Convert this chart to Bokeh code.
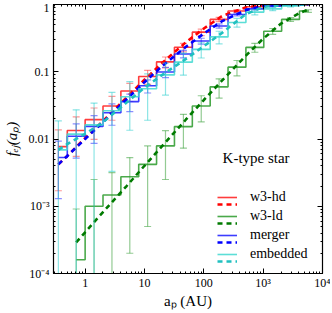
from bokeh.plotting import figure
from bokeh.models import (Range1d, LogAxis, FixedTicker, Legend, LegendItem, Label,
                          ColumnDataSource)
from bokeh.embed import file_html
from bokeh.resources import INLINE

# ---------------- data ----------------
bin_centers = [0.354, 0.707, 1.414, 2.83, 5.66, 11.3, 22.6, 45.3, 90.5, 181, 362, 724, 1448, 2896, 5793]

hd_vals = [0.0077, 0.0134, 0.0194, 0.031, 0.0516, 0.085, 0.140, 0.231, 0.388, 0.60, 0.80, 0.925, 0.97, 0.99, 1.0]
hd_errs = [0.0060, 0.0079, 0.0095, 0.0120, 0.0155, 0.0199, 0.0256, 0.033, 0.043, 0.045, 0.04, 0.03, 0.02, 0.01, 0.0]

merger_vals = [0.0053, 0.011, 0.0154, 0.0246, 0.036, 0.062, 0.099, 0.184, 0.286, 0.48, 0.71, 0.86, 0.945, 0.99, 1.0]
merger_errs = [0.0040, 0.0058, 0.0068, 0.0086, 0.0104, 0.0137, 0.0173, 0.0236, 0.029, 0.035, 0.035, 0.03, 0.02, 0.01, 0.0]

emb_vals = [0.0069, 0.0118, 0.0162, 0.0263, 0.0425, 0.056, 0.090, 0.139, 0.215, 0.33, 0.54, 0.77, 0.86, 0.95, 1.0]
emb_errs = [0.0117, 0.0154, 0.018, 0.023, 0.029, 0.037, 0.045, 0.05, 0.055, 0.07, 0.08, 0.07, 0.05, 0.03, 0.0]

ld_centers = [0.707, 1.414, 2.83, 5.66, 11.3, 22.6, 45.3, 90.5, 181, 362, 724, 1448, 2896, 5793]
ld_vals = [1.6e-4, 1.0e-3, 1.47e-3, 2.75e-3, 4.2e-3, 7.9e-3, 0.0153, 0.031, 0.0596, 0.117, 0.23, 0.40, 0.60, 0.80]
ld_errs = [7.5e-4, 1.5e-3, 1.7e-3, 2.55e-3, 3.7e-3, 5.4e-3, 8e-3, 0.013, 0.019, 0.03, 0.035, 0.04, 0.04, 0.035]

fit_x = [0.354, 0.5, 1, 2, 5, 10, 20, 50, 100, 200, 500, 1000, 2000, 5800]
hd_fit = [0.0042, 0.0056, 0.0103, 0.0184, 0.0415, 0.076, 0.136, 0.275, 0.44, 0.67, 0.90, 0.98, 1.0, 1.0]
merger_fit = [0.0042, 0.0056, 0.0100, 0.0178, 0.039, 0.070, 0.122, 0.235, 0.37, 0.56, 0.82, 0.95, 0.99, 1.0]
emb_fit = [0.0069, 0.0084, 0.0119, 0.0178, 0.035, 0.058, 0.090, 0.155, 0.24, 0.375, 0.71, 0.92, 0.98, 1.0]

ld_fit_x = [0.707, 1, 2, 5, 10, 20, 50, 100, 200, 500, 1000, 2000, 4000, 5800]
ld_fit = [2.9e-4, 4.1e-4, 8.2e-4, 2.0e-3, 4.0e-3, 7.9e-3, 0.0195, 0.038, 0.073, 0.17, 0.31, 0.52, 0.74, 0.84]

series_names = ["w3-hd", "w3-ld", "merger", "embedded"]

x_major = [1, 10, 100, 1000, 10000]
x_tick_labels = ["1", "10", "100", "10³", "10⁴"]
y_major = [0.0001, 0.001, 0.01, 0.1, 1]
y_tick_labels = ["10⁻⁴", "10⁻³", "0.01", "0.1", "1"]

x_title = "aₚ (AU)"
y_title = "fₑⱼ(aₚ)"

# ---------------- figure ----------------
SERIF = "'Liberation Serif', serif"
X0, X1 = 0.293, 1e4
Y0, Y1 = 1e-4, 1

p = figure(width=330, height=311, x_axis_type="log", y_axis_type="log",
           x_range=Range1d(X0, X1), y_range=Range1d(Y0, Y1),
           output_backend="svg", toolbar_location=None,
           min_border_left=51, min_border_right=8, min_border_top=4, min_border_bottom=30)
p.grid.visible = False
p.outline_line_color = "black"
p.outline_line_width = 1.2
p.outline_line_alpha = 1.0
p.background_fill_color = "white"
p.border_fill_color = "white"

x_minor = [m * 10.0 ** k for k in range(-1, 4) for m in range(2, 10)]
y_minor = [m * 10.0 ** k for k in range(-4, 0) for m in range(2, 10)]
xticker = FixedTicker(ticks=x_major, minor_ticks=x_minor)
yticker = FixedTicker(ticks=y_major, minor_ticks=y_minor)


def style_axis(ax):
    ax.major_tick_in = 5
    ax.major_tick_out = 0
    ax.minor_tick_in = 2
    ax.minor_tick_out = 0
    ax.major_tick_line_color = "black"
    ax.minor_tick_line_color = "black"
    ax.axis_line_color = "black"
    ax.major_label_text_font = SERIF
    ax.major_label_text_font_size = "12px"
    ax.major_label_text_color = "black"
    ax.axis_label_text_font = SERIF
    ax.axis_label_text_font_size = "15px"
    ax.axis_label_text_color = "black"


xa = p.xaxis[0]
ya = p.yaxis[0]
style_axis(xa)
style_axis(ya)
xa.ticker = xticker
ya.ticker = yticker
xa.major_label_overrides = dict(zip(x_major, x_tick_labels))
ya.major_label_overrides = dict(zip(y_major, y_tick_labels))
xa.major_label_standoff = 2
ya.major_label_standoff = 4
xa.axis_label = x_title
xa.axis_label_text_font_style = "normal"
xa.axis_label_standoff = 0
ya.axis_label = y_title
ya.axis_label_text_font_style = "italic"
ya.axis_label_standoff = 6

top = LogAxis(ticker=xticker)
style_axis(top)
top.major_label_text_font_size = "1px"
top.major_label_text_alpha = 0
top.major_label_standoff = 0
p.add_layout(top, "above")
right = LogAxis(ticker=yticker)
style_axis(right)
right.major_label_text_font_size = "1px"
right.major_label_text_alpha = 0
right.major_label_standoff = 0
p.add_layout(right, "right")


def add_series(xs, ys, errs, fx, fy, c_step, c_err, c_dash):
    lo = [max(y - e, 1e-7) for y, e in zip(ys, errs)]
    hi = [y + e for y, e in zip(ys, errs)]
    src = ColumnDataSource(dict(x=xs, y=ys, lo=lo, hi=hi))
    p.segment(x0="x", y0="lo", x1="x", y1="hi", source=src,
              line_color=c_err, line_alpha=0.55, line_width=1.2)
    p.scatter("x", "lo", source=src, marker="dash", size=7,
              line_color=c_err, line_alpha=0.55, line_width=1.2)
    p.scatter("x", "hi", source=src, marker="dash", size=7,
              line_color=c_err, line_alpha=0.55, line_width=1.2)
    st = p.step("x", "y", source=src, mode="center", line_color=c_step,
                line_width=1.6, line_alpha=0.85)
    d = p.line(fx, fy, line_color=c_dash, line_width=2.6, line_dash="5 4")
    return st, d


r_hd = add_series(bin_centers, hd_vals, hd_errs, fit_x, hd_fit, "#ff1a1a", "#ff4040", "#ff0000")
r_ld = add_series(ld_centers, ld_vals, ld_errs, ld_fit_x, ld_fit, "#2a9a2a", "#3aa03a", "#007a00")
r_mg = add_series(bin_centers, merger_vals, merger_errs, fit_x, merger_fit, "#1a1aff", "#3030ff", "#0000ff")
r_em = add_series(bin_centers, emb_vals, emb_errs, fit_x, emb_fit, "#40d8d0", "#30d0d0", "#20c0c0")

renders = [r_hd, r_ld, r_mg, r_em]

common = dict(orientation="vertical", glyph_width=20, glyph_height=18, label_height=18,
              spacing=1, padding=0, margin=0, label_standoff=13,
              border_line_alpha=0, background_fill_alpha=0,
              label_text_font=SERIF, label_text_font_size="14px", label_text_color="black")

legA = Legend(items=[LegendItem(label=n, renderers=[r[0]]) for n, r in zip(series_names, renders)],
              location=(164, 10), **common)
legB = Legend(items=[LegendItem(label="\u00a0", renderers=[r[1]]) for r in renders],
              location=(164, 3), **common)
p.add_layout(legA)
p.add_layout(legB)

p.add_layout(Label(x=760, y=0.0053, text="K-type star", text_align="center",
                   text_baseline="middle", text_font=SERIF, text_font_size="15px",
                   text_color="black"))

open("out.html", "w").write(file_html(p, INLINE))
